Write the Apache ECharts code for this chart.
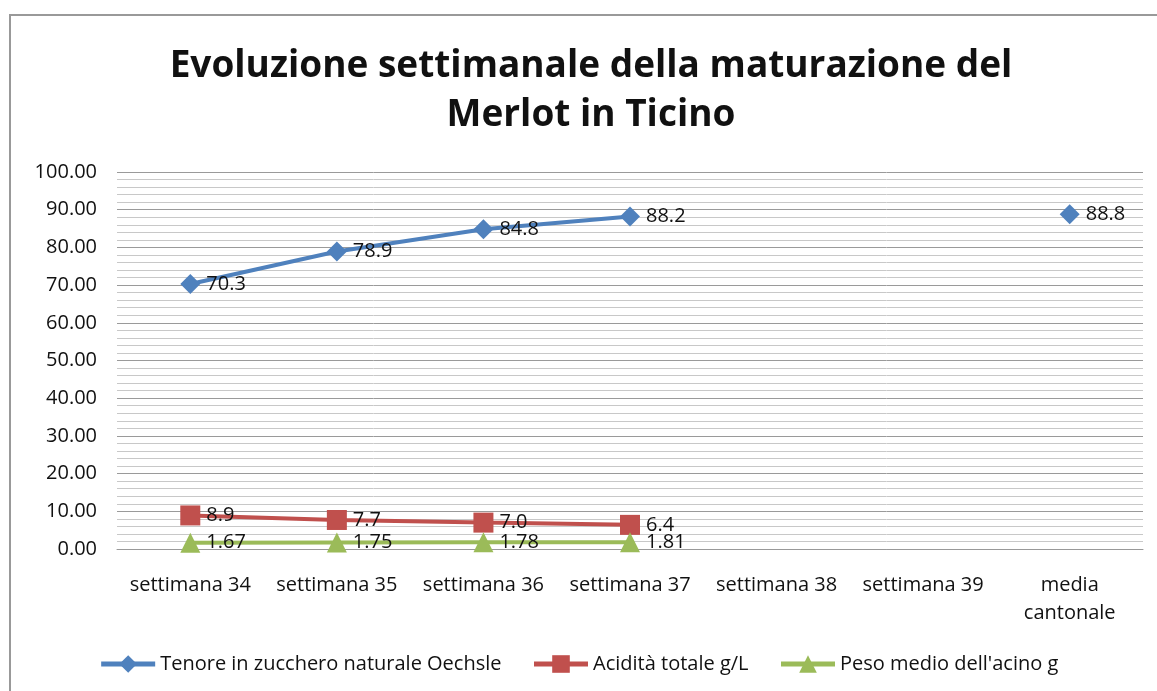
<!DOCTYPE html>
<html>
<head>
<meta charset="utf-8">
<script src="https://cdn.jsdelivr.net/npm/echarts@6/dist/echarts.min.js"></script>
<style>
  html, body { margin: 0; padding: 0; background: #fff; }
  #chart { width: 1157px; height: 691px; }
</style>
</head>
<body>
<div id="chart"></div>
<script>
  var categories = ['settimana 34', 'settimana 35', 'settimana 36', 'settimana 37', 'settimana 38', 'settimana 39', 'media\ncantonale'];
  var tenore = [70.3, 78.9, 84.8, 88.2, null, null, 88.8];
  var acidita = [8.9, 7.7, 7.0, 6.4, null, null, null];
  var peso = [1.67, 1.75, 1.78, 1.81, null, null, null];
  var seriesNames = ['Tenore in zucchero naturale Oechsle', 'Acidità totale g/L', 'Peso medio dell\'acino g'];
  var titleLines = ['Evoluzione settimanale della maturazione del', 'Merlot in Ticino'];

  var font = '"Open Sans", "Noto Sans", sans-serif';
  var chart = echarts.init(document.getElementById('chart'));

  function makeSeries(name, data, color, symbol, size, decimals) {
    return {
      name: name,
      type: 'line',
      data: data,
      connectNulls: false,
      symbol: symbol,
      symbolSize: size,
      itemStyle: { color: color },
      lineStyle: { color: color, width: 4 },
      label: {
        show: true,
        position: 'right',
        distance: 6,
        color: '#111',
        fontSize: 20,
        fontFamily: font,
        formatter: function (p) { return p.value == null ? '' : p.value.toFixed(decimals); }
      },
      emphasis: { disabled: true }
    };
  }

  var titleStyle = { fill: '#111', font: 'bold 37px ' + font, textAlign: 'center', textVerticalAlign: 'middle' };

  var option = {
    animation: false,
    textStyle: { fontFamily: font },
    graphic: [{
      type: 'rect',
      shape: { x: 10, y: 15, width: 1300, height: 900 },
      style: { fill: 'none', stroke: '#999', lineWidth: 2 },
      silent: true
    }, {
      type: 'text',
      x: 591, y: 66,
      style: Object.assign({ text: titleLines[0] }, titleStyle),
      silent: true
    }, {
      type: 'text',
      x: 591, y: 115,
      style: Object.assign({ text: titleLines[1] }, titleStyle),
      silent: true
    }],
    legend: {
      bottom: 12,
      left: 'center',
      itemWidth: 54,
      itemHeight: 22,
      itemGap: 30,
      lineStyle: { width: 5 },
      textStyle: { fontSize: 20, color: '#111', fontFamily: font },
      data: seriesNames
    },
    grid: {
      left: 117,
      right: 14,
      top: 172,
      bottom: 142
    },
    xAxis: {
      type: 'category',
      data: categories,
      boundaryGap: true,
      axisLine: { show: true, lineStyle: { color: '#999', width: 1 } },
      axisTick: { show: false },
      axisLabel: { fontSize: 20, color: '#111', margin: 22, interval: 0, lineHeight: 28, fontFamily: font }
    },
    yAxis: {
      type: 'value',
      min: 0,
      max: 100,
      interval: 10,
      axisLine: { show: false },
      axisTick: { show: false },
      axisLabel: {
        fontSize: 20,
        color: '#111',
        margin: 20,
        fontFamily: font,
        formatter: function (v) { return v.toFixed(2); }
      },
      splitLine: { lineStyle: { color: '#9a9a9a', width: 1 } },
      minorTick: { show: false, splitNumber: 5 },
      minorSplitLine: { show: true, lineStyle: { color: '#c8c8c8', width: 1 } }
    },
    series: [
      makeSeries(seriesNames[0], tenore, '#4F81BD', 'diamond', 20, 1),
      makeSeries(seriesNames[1], acidita, '#C0504D', 'rect', 20, 1),
      makeSeries(seriesNames[2], peso, '#9BBB59', 'triangle', 20, 2)
    ]
  };
  chart.setOption(option);
</script>
</body>
</html>
